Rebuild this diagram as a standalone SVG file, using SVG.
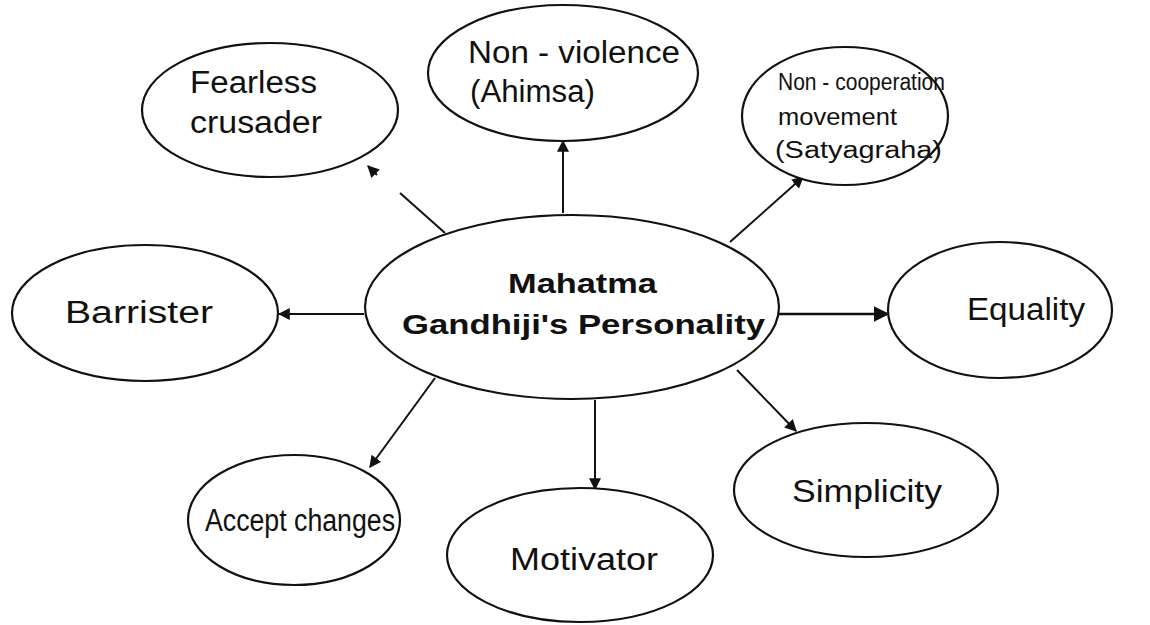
<svg xmlns="http://www.w3.org/2000/svg" width="1150" height="625" viewBox="0 0 1150 625">
<defs>
<style>
.node ellipse{fill:#fff;stroke:#111;stroke-width:2.2}
.t{font-family:"Liberation Sans",Arial,sans-serif;font-size:31px;fill:#111}
.s{font-family:"Liberation Sans",Arial,sans-serif;font-size:23px;fill:#111}
.b{font-family:"Liberation Sans",Arial,sans-serif;font-size:28px;font-weight:bold;fill:#111}
.c path{fill:none;stroke:#111;stroke-width:2}
</style>
<marker id="ah" viewBox="0 0 10 10" refX="9" refY="5" markerWidth="6" markerHeight="6" orient="auto" markerUnits="strokeWidth">
<path d="M0,0 L10,5 L0,10 z" fill="#111"/>
</marker>
</defs>
<rect width="1150" height="625" fill="#fff"/>
<g id="connectors" class="c">
<path d="M445,233 L400,193"/>
<path d="M377,175 L368,166" marker-end="url(#ah)"/>
<path d="M563,213 L563,141" marker-end="url(#ah)"/>
<path d="M730,242 L803,177" marker-end="url(#ah)"/>
<path d="M768,314 L888,314" marker-end="url(#ah)" style="stroke-width:2.6"/>
<path d="M364,314 L279,314" marker-end="url(#ah)"/>
<path d="M737,370 L796,431" marker-end="url(#ah)"/>
<path d="M595,400 L595,489" marker-end="url(#ah)"/>
<path d="M435,378 L370,467" marker-end="url(#ah)"/>
</g>
<g id="center" class="node">
<ellipse cx="572" cy="307" rx="207" ry="92"/>
<text class="b" x="508" y="293" textLength="149" lengthAdjust="spacingAndGlyphs">Mahatma</text>
<text class="b" x="402" y="334" textLength="363" lengthAdjust="spacingAndGlyphs">Gandhiji's Personality</text>
</g>
<g id="fearless" class="node">
<ellipse cx="270" cy="110" rx="128" ry="67"/>
<text class="t" x="190" y="93" textLength="127" lengthAdjust="spacingAndGlyphs">Fearless</text>
<text class="t" x="190" y="133" textLength="132" lengthAdjust="spacingAndGlyphs">crusader</text>
</g>
<g id="nonviolence" class="node">
<ellipse cx="563" cy="73" rx="135" ry="68"/>
<text class="t" x="468" y="63" textLength="212" lengthAdjust="spacingAndGlyphs">Non - violence</text>
<text class="t" x="470" y="102" textLength="125" lengthAdjust="spacingAndGlyphs">(Ahimsa)</text>
</g>
<g id="noncoop" class="node">
<ellipse cx="845" cy="116" rx="103" ry="69"/>
<text class="s" x="778" y="90" textLength="167" lengthAdjust="spacingAndGlyphs">Non - cooperation</text>
<text class="s" x="778" y="125" textLength="119" lengthAdjust="spacingAndGlyphs">movement</text>
<text class="s" x="775" y="158" textLength="167" lengthAdjust="spacingAndGlyphs">(Satyagraha)</text>
</g>
<g id="barrister" class="node">
<ellipse cx="145" cy="313" rx="133" ry="68"/>
<text class="t" x="65" y="323" textLength="148" lengthAdjust="spacingAndGlyphs">Barrister</text>
</g>
<g id="equality" class="node">
<ellipse cx="1000" cy="310" rx="112" ry="68"/>
<text class="t" x="967" y="320" textLength="118" lengthAdjust="spacingAndGlyphs">Equality</text>
</g>
<g id="accept" class="node">
<ellipse cx="294" cy="520" rx="106" ry="65"/>
<text class="t" x="205" y="531" textLength="190" lengthAdjust="spacingAndGlyphs">Accept changes</text>
</g>
<g id="motivator" class="node">
<ellipse cx="580" cy="555" rx="133" ry="67"/>
<text class="t" x="510" y="570" textLength="148" lengthAdjust="spacingAndGlyphs">Motivator</text>
</g>
<g id="simplicity" class="node">
<ellipse cx="866" cy="490" rx="132" ry="67"/>
<text class="t" x="792" y="502" textLength="150" lengthAdjust="spacingAndGlyphs">Simplicity</text>
</g>
</svg>
